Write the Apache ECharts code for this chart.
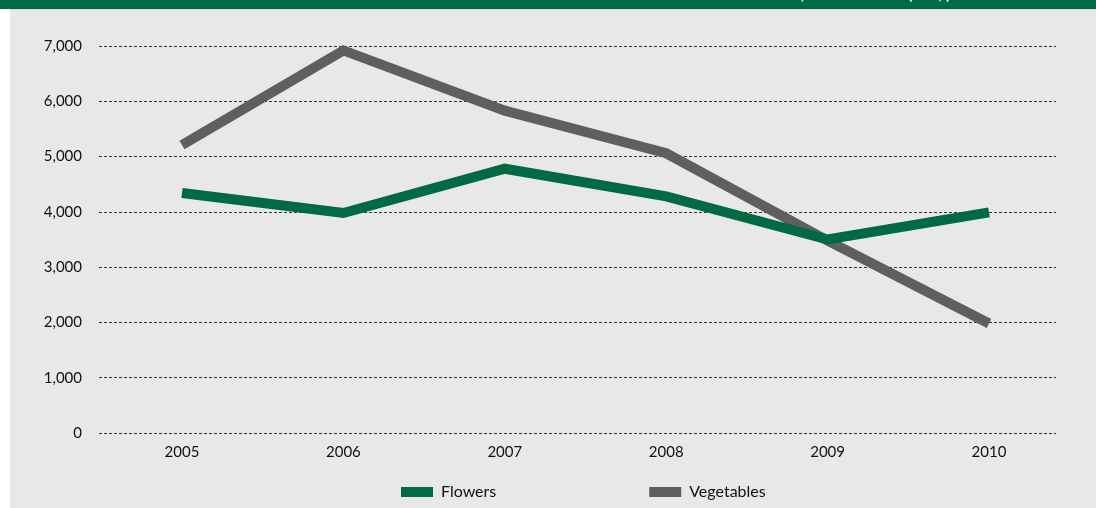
<!DOCTYPE html>
<html lang="en">
<head>
  <meta charset="utf-8" />
  <title>Flowers and vegetables</title>
  <script src="https://cdn.jsdelivr.net/npm/echarts@6/dist/echarts.min.js"></script>
</head>
<body style="margin: 0; background: #FFFFFF;">
<div id="chart" style="width: 1096px; height: 508px;"></div>
<script>
  // values
  const years = ['2005', '2006', '2007', '2008', '2009', '2010'];
  const flowers = [4340, 3980, 4780, 4280, 3500, 3990];
  const vegetables = [5210, 6920, 5830, 5060, 3480, 1980];
  const yTicks = [0, 1000, 2000, 3000, 4000, 5000, 6000, 7000];

  const green = '#006A42';
  const grey = '#5E5F61';
  const font = 'Lato, "Open Sans", sans-serif';

  const chart = echarts.init(document.getElementById('chart'));

  chart.setOption({
    animation: false,
    textStyle: { fontFamily: font },
    graphic: [
      { type: 'rect', shape: { x: 10, y: 10, width: 1086, height: 498 }, style: { fill: '#E8E8E8' }, z: -10 },
      { type: 'rect', shape: { x: 0, y: 0, width: 1096, height: 9 }, style: { fill: '#006A43' }, z: -9 },
      { type: 'rect', shape: { x: 10, y: 9, width: 1086, height: 1 }, style: { fill: '#D4D9D6' }, z: -9 },
      // header title, almost all of it cut off by the top of the picture
      {
        type: 'text', z: -8,
        style: {
          text: 'FLOWER AND VEGETABLE EXPORTS, 2005–2010 (US$)',
          x: 951, y: 2, align: 'right', verticalAlign: 'bottom',
          fill: '#FFFFFF', font: 'bold 18px ' + font
        }
      }
    ],
    grid: [
      { left: 99, right: 40, top: 46, bottom: 75 },
      { left: 182, right: 107, top: 46, bottom: 75 }
    ],
    legend: {
      data: [
        { name: 'Flowers', itemStyle: { color: green } },
        { name: 'Vegetables', itemStyle: { color: grey } }
      ],
      icon: 'rect',
      left: 396,
      top: 479,
      itemWidth: 32,
      itemHeight: 10,
      itemGap: 153,
      textStyle: { color: '#111111', fontSize: 16, fontFamily: font, padding: [0, 0, 0, 3] }
    },
    xAxis: [
      { gridIndex: 0, type: 'category', data: years, show: false },
      {
        gridIndex: 1, type: 'category', data: years, boundaryGap: false,
        axisLine: { show: false }, axisTick: { show: false },
        axisLabel: { color: '#111111', fontSize: 15, margin: 12 },
        splitLine: { show: false }
      }
    ],
    yAxis: [
      {
        gridIndex: 0, type: 'value', min: yTicks[0], max: yTicks[yTicks.length - 1], interval: 1000,
        axisLine: { show: false }, axisTick: { show: false },
        axisLabel: {
          color: '#111111', fontSize: 15, margin: 17,
          formatter: v => v.toLocaleString('en-US')
        },
        splitLine: { lineStyle: { color: '#333333', width: 1, type: [3, 2] } }
      },
      {
        gridIndex: 1, type: 'value', min: yTicks[0], max: yTicks[yTicks.length - 1],
        show: false, splitLine: { show: false }
      }
    ],
    series: [
      {
        name: 'Vegetables', type: 'line', xAxisIndex: 1, yAxisIndex: 1,
        data: vegetables, symbol: 'none', z: 3,
        itemStyle: { color: grey },
        lineStyle: { color: grey, width: 10, cap: 'butt', join: 'miter' }
      },
      {
        name: 'Flowers', type: 'line', xAxisIndex: 1, yAxisIndex: 1,
        data: flowers, symbol: 'none', z: 4,
        itemStyle: { color: green },
        lineStyle: { color: green, width: 10, cap: 'butt', join: 'miter' }
      }
    ]
  });

  window.addEventListener('resize', () => chart.resize());
</script>
</body>
</html>
